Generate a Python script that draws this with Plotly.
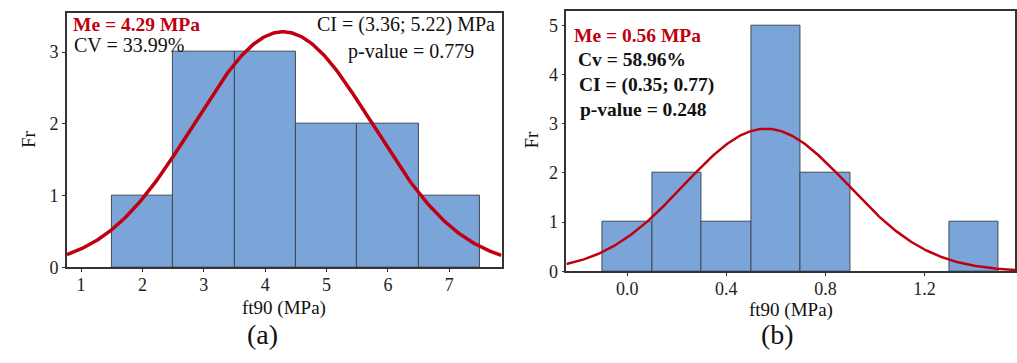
import numpy as np
import plotly.graph_objects as go

# ---- data (a) ----
a_bin_centers = [2, 3, 4, 5, 6, 7]
a_counts = [1, 3, 3, 2, 2, 1]
a_bin_width = 1.0
a_mean = 4.29
a_cv = 0.3399
a_xticks = [1, 2, 3, 4, 5, 6, 7]
a_yticks = [0, 1, 2, 3]

# ---- data (b) ----
b_bin_centers = [0.0, 0.2, 0.4, 0.6, 0.8, 1.4]
b_counts = [1, 2, 1, 5, 2, 1]
b_bin_width = 0.2
b_mean = 0.56
b_cv = 0.5896
b_xticks = [0.0, 0.4, 0.8, 1.2]
b_yticks = [0, 1, 2, 3, 4, 5]

W, H = 1017, 363
BAR = "#7BA4D8"
EDGE = "#3F4A55"
RED = "#C00010"
FONT = "Liberation Serif"


def px(x):
    return x / W


def py(y):
    return 1 - y / H


def normal_curve(mean, cv, n, width, lo, hi):
    sd = mean * cv
    xs = np.linspace(lo, hi, 300)
    ys = n * width / (sd * np.sqrt(2 * np.pi)) * np.exp(-0.5 * ((xs - mean) / sd) ** 2)
    return xs, ys


fig = go.Figure()

a_range = [0.77, 7.85]
b_range = [-0.245, 1.565]

fig.add_trace(go.Bar(x=a_bin_centers, y=a_counts, width=a_bin_width,
                     marker=dict(color=BAR, line=dict(color=EDGE, width=1)),
                     xaxis="x", yaxis="y", showlegend=False))
xs, ys = normal_curve(a_mean, a_cv, sum(a_counts), a_bin_width, *a_range)
fig.add_trace(go.Scatter(x=xs, y=ys, mode="lines", line=dict(color=RED, width=3.5),
                         xaxis="x", yaxis="y", showlegend=False))

fig.add_trace(go.Bar(x=b_bin_centers, y=b_counts, width=b_bin_width,
                     marker=dict(color=BAR, line=dict(color=EDGE, width=1)),
                     xaxis="x2", yaxis="y2", showlegend=False))
xs, ys = normal_curve(b_mean, b_cv, sum(b_counts), b_bin_width, *b_range)
fig.add_trace(go.Scatter(x=xs, y=ys, mode="lines", line=dict(color=RED, width=2.5),
                         xaxis="x2", yaxis="y2", showlegend=False))

axis_common = dict(showgrid=False, zeroline=False, showline=True, mirror=True,
                   linecolor="#333333", linewidth=1.5, ticks="outside", ticklen=3,
                   tickcolor="#333333", tickfont=dict(family=FONT, size=18, color="#222222"))
xaxis_extra = dict(ticklabelstandoff=-3)

fig.update_layout(
    width=W, height=H, margin=dict(l=0, r=0, t=0, b=0),
    paper_bgcolor="white", plot_bgcolor="white", bargap=0,
    xaxis=dict(domain=[px(67), px(502)], range=a_range, tickvals=a_xticks,
               anchor="y", **axis_common, **xaxis_extra),
    yaxis=dict(domain=[py(275), py(13)], range=[0, 3.55], tickvals=a_yticks,
               anchor="x", **axis_common),
    xaxis2=dict(domain=[px(567), px(1016)], range=b_range, tickvals=b_xticks,
                tickformat=".1f", anchor="y2", **axis_common, **xaxis_extra),
    yaxis2=dict(domain=[py(279), py(11)], range=[0, 5.3], tickvals=b_yticks,
                anchor="x2", **axis_common),
)

ann = []


def t(x, y, text, size=18, color="#111111", xanchor="left", angle=0):
    ann.append(dict(x=px(x), y=py(y), xref="paper", yref="paper", text=text,
                    showarrow=False, xanchor=xanchor, yanchor="middle", textangle=angle,
                    font=dict(family=FONT, size=size, color=color)))


# panel (a) texts
t(71, 25, "<b>Me = 4.29 MPa</b>", 19.5, RED)
t(72, 46, "CV = 33.99%", 20)
t(497, 25, "CI = (3.36; 5.22) MPa", 20, xanchor="right")
t(476, 53, "p-value = 0.779", 20, xanchor="right")
t(28, 143, "Fr", 19, xanchor="center", angle=-90)
t(284, 317, "ft90 (MPa)", 19, xanchor="center")
t(263, 344, "(a)", 28, xanchor="center")

# panel (b) texts
t(573, 36, "<b>Me = 0.56 MPa</b>", 19.5, RED)
t(577, 61, "<b>Cv = 58.96%</b>", 19.5)
t(578, 87, "<b>CI = (0.35; 0.77)</b>", 19.5)
t(579, 113, "<b>p-value = 0.248</b>", 19.5)
t(532, 143, "Fr", 19, xanchor="center", angle=-90)
t(792, 319, "ft90 (MPa)", 19, xanchor="center")
t(778, 344, "(b)", 28, xanchor="center")

fig.update_layout(annotations=ann)
fig.write_html("out.html", config={"displayModeBar": False},
               post_script="document.body.style.margin='0';document.body.style.overflow='hidden';")
